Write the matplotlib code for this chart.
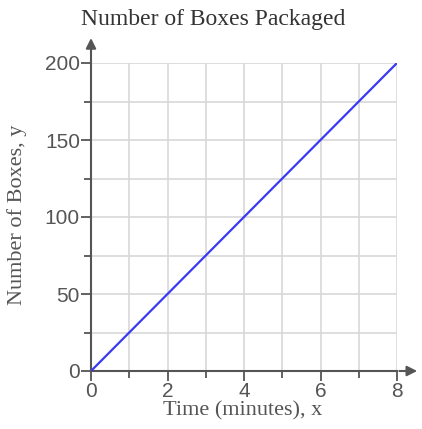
import numpy as np
import matplotlib.pyplot as plt

# data
time_min = [0, 8]
boxes = [0, 200]
x_ticks = [0, 2, 4, 6, 8]
y_ticks = [0, 50, 100, 150, 200]

fig = plt.figure(figsize=(4.22, 4.29), dpi=100)
ax = fig.add_axes([91 / 422, 1 - 371 / 429, 306 / 422, 308 / 429])

ax.set_xlim(0, 8)
ax.set_ylim(0, 200)

# grid every 1 minute / 25 boxes
ax.set_xticks(np.arange(0, 9, 1), minor=True)
ax.set_yticks(np.arange(0, 201, 25), minor=True)
ax.grid(True, which='both', color='#d8d8d8', linewidth=1.2)
ax.set_axisbelow(True)

ax.plot(time_min, boxes, color='#3a3af2', linewidth=1.6, zorder=3)

for s in ['top', 'right']:
    ax.spines[s].set_visible(False)
for s in ['left', 'bottom']:
    ax.spines[s].set_color('#555555')
    ax.spines[s].set_linewidth(1.5)

ax.set_xticks(x_ticks)
ax.set_yticks(y_ticks)
ax.tick_params(which='both', color='#555555', width=1.3, labelcolor='#555555',
               labelsize=15, pad=1)
ax.tick_params(which='major', length=7)
ax.tick_params(which='minor', length=5)
for lab in ax.get_xticklabels() + ax.get_yticklabels():
    lab.set_family('Liberation Sans')

# axis arrows
ax.annotate('', xy=(0, 218), xytext=(0, 199), annotation_clip=False,
            arrowprops=dict(arrowstyle='-|>', color='#555555', lw=1.5,
                            mutation_scale=15))
ax.annotate('', xy=(8.6, 0), xytext=(7.99, 0), annotation_clip=False,
            arrowprops=dict(arrowstyle='-|>', color='#555555', lw=1.5,
                            mutation_scale=15))

fig.text(213 / 422, 1 - 20 / 429, 'Number of Boxes Packaged', ha='center',
         va='center', family='Liberation Serif', fontsize=17, color='#333333')
fig.text(243 / 422, 1 - 411 / 429, 'Time (minutes), x', ha='center',
         va='center', family='Liberation Serif', fontsize=16, color='#555555')
fig.text(17 / 422, 1 - 215 / 429, 'Number of Boxes, y', ha='center',
         va='center', rotation=90, family='Liberation Serif', fontsize=16,
         color='#555555')

fig.savefig('out.png', dpi=100)
